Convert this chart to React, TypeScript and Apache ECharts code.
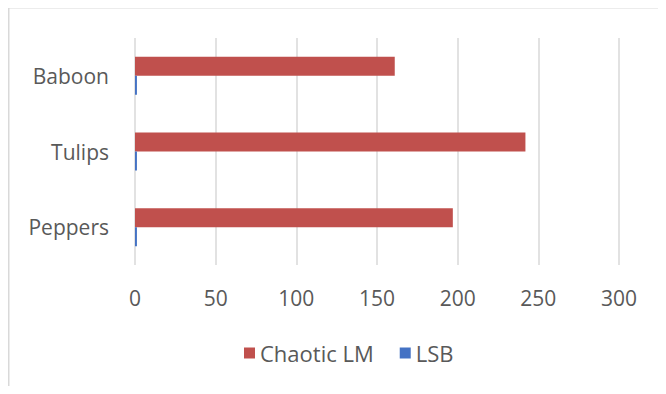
import React, { useEffect, useRef } from "react";
import * as echarts from "echarts";

const categories = ["Peppers", "Tulips", "Baboon"];
const chaoticLM = [197, 242, 161];
const lsb = [1.2, 1.2, 1.2];
const xTicks = { min: 0, max: 300, interval: 50 };

export default function App() {
  const ref = useRef<HTMLDivElement>(null);
  useEffect(() => {
    const chart = echarts.init(ref.current!, null, { renderer: "svg" });
    const font = "'Open Sans', 'Liberation Sans', sans-serif";
    chart.setOption({
      animation: false,
      backgroundColor: "#ffffff",
      textStyle: { fontFamily: font },
      graphic: [
        {
          type: "rect",
          shape: { x: 8.5, y: 7.5, width: 656, height: 420 },
          style: { fill: "none", stroke: "#d9d9d9", lineWidth: 2 },
          silent: true,
        },
      ],
      grid: { left: 135, right: 47, top: 38, bottom: 129 },
      xAxis: {
        type: "value",
        min: xTicks.min,
        max: xTicks.max,
        interval: xTicks.interval,
        axisLine: { show: false },
        axisTick: { show: false },
        axisLabel: { color: "#595959", fontSize: 21, margin: 22, fontFamily: font },
        splitLine: { lineStyle: { color: "#d9d9d9", width: 1.5 } },
      },
      yAxis: {
        type: "category",
        data: categories,
        axisLine: { show: false },
        axisTick: { show: false },
        axisLabel: { color: "#595959", fontSize: 21, margin: 26, fontFamily: font },
      },
      legend: {
        bottom: 25,
        left: 239,
        itemWidth: 11,
        itemHeight: 11,
        itemGap: 26,
        icon: "rect",
        textStyle: { color: "#595959", fontSize: 22, fontFamily: font },
        data: ["Chaotic LM", "LSB"],
      },
      series: [
        {
          name: "Chaotic LM",
          type: "bar",
          data: chaoticLM,
          barWidth: 19,
          barGap: "0%",
          itemStyle: { color: "#c0504d" },
        },
        {
          name: "LSB",
          type: "bar",
          data: lsb,
          barWidth: 19,
          barGap: "0%",
          itemStyle: { color: "#4472c4" },
        },
      ],
    });
    return () => chart.dispose();
  }, []);
  return <div ref={ref} style={{ width: 666, height: 394, margin: -8 }} />;
}
